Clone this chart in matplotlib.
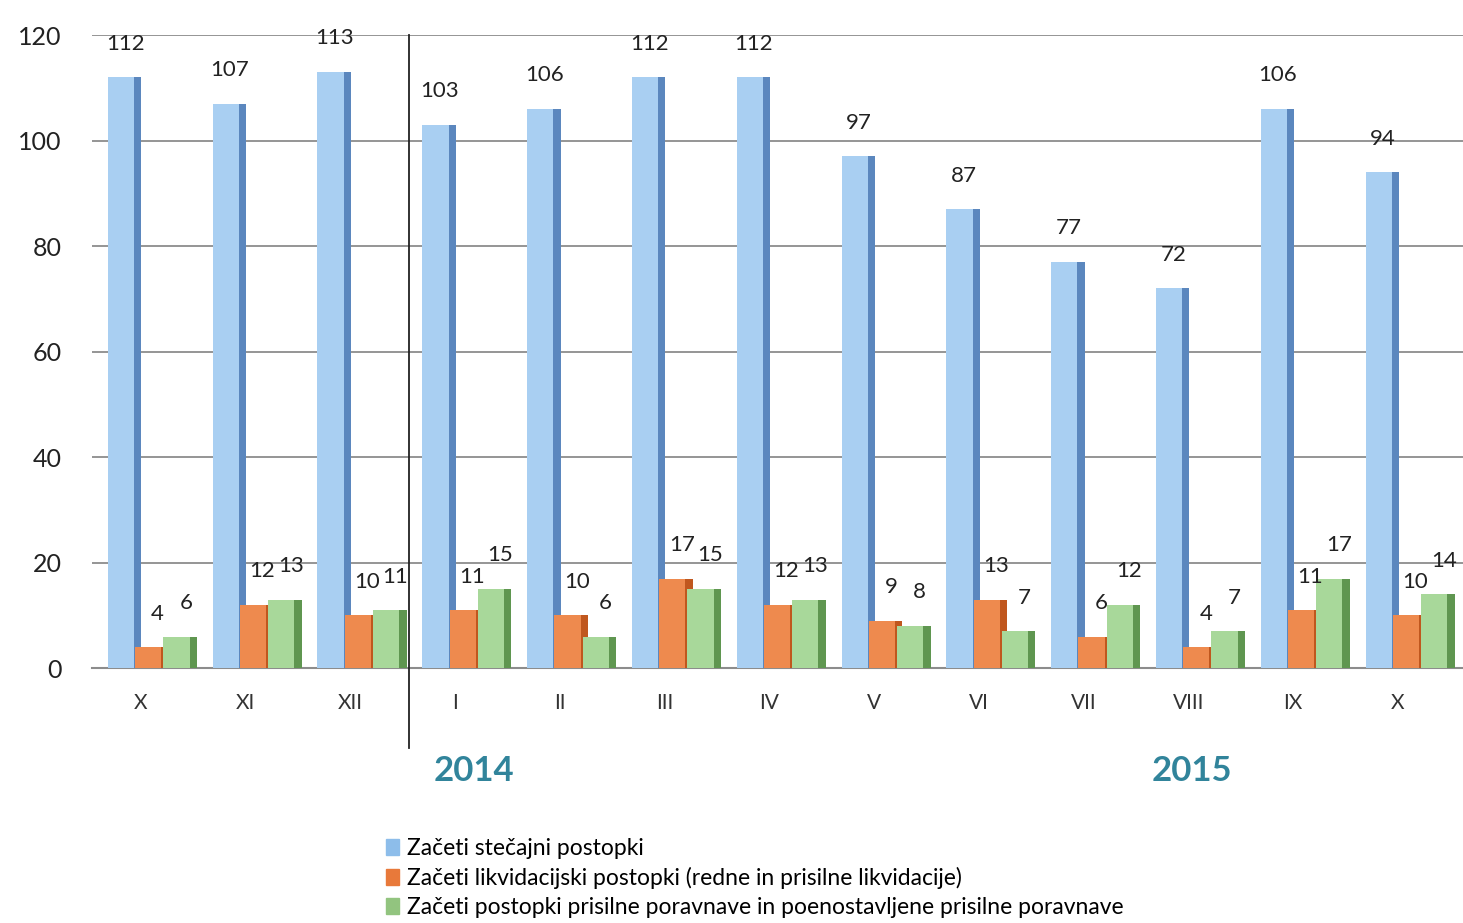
import numpy as np
import matplotlib.pyplot as plt

months = ["X", "XI", "XII", "I", "II", "III", "IV", "V", "VI", "VII", "VIII", "IX", "X"]
stecajni = [112, 107, 113, 103, 106, 112, 112, 97, 87, 77, 72, 106, 94]
likvidacijski = [4, 12, 10, 11, 10, 17, 12, 9, 13, 6, 4, 11, 10]
poravnave = [6, 13, 11, 15, 6, 15, 13, 8, 7, 12, 7, 17, 14]
labels = ["Začeti stečajni postopki",
          "Začeti likvidacijski postopki (redne in prisilne likvidacije)",
          "Začeti postopki prisilne poravnave in poenostavljene prisilne poravnave"]

plt.rcParams['font.family'] = ['Lato', 'DejaVu Sans']

fig = plt.figure(figsize=(14.63, 9.23), dpi=100)
ax = fig.add_axes([0.063, 0.276, 0.937, 0.686])

x = np.arange(len(months))
face_w = 0.25
side_w = 0.07
series = [
    (stecajni, -0.31, "#A9CFF2", "#5B87BE", 0.04),
    (likvidacijski, -0.05, "#EE8A4E", "#C0571E", 0.09),
    (poravnave, 0.22, "#A8D89A", "#5F9650", 0.09),
]
for vals, off, face, side, loff in series:
    ax.bar(x + off, vals, width=face_w, align='edge', color=face, zorder=3)
    ax.bar(x + off + face_w, vals, width=side_w, align='edge', color=side, zorder=3)
    for xi, v in zip(x, vals):
        ax.annotate(str(v), (xi + off + face_w / 2 + loff, v), xytext=(0, 17),
                    textcoords='offset points', ha='center', va='bottom',
                    fontsize=16, color='#222222', zorder=5)

ax.set_xlim(-0.46, 12.62)
ax.set_ylim(0, 120)
ax.set_yticks(range(0, 121, 20))
ax.yaxis.grid(True, color='#8C8C8C', linewidth=1.3, zorder=0)
ax.set_axisbelow(True)
ax.set_xticks(x)
ax.set_xticklabels(months, fontsize=15, color='#333333')
ax.tick_params(axis='y', labelsize=18, length=0, pad=22, colors='#222222')
ax.tick_params(axis='x', length=0, pad=18)
for s in ['top', 'right', 'left']:
    ax.spines[s].set_visible(False)
ax.spines['bottom'].set_color('#8C8C8C')
ax.spines['bottom'].set_linewidth(1.5)

# year separator between XII and I
ax.plot([2.56, 2.56], [-15.2, 120], color='#222222', linewidth=1.3, clip_on=False, zorder=6)

ax.text(3.18, -19.5, "2014", fontsize=25, fontweight='bold', color='#31849B',
        ha='center', va='center')
ax.text(10.03, -19.5, "2015", fontsize=25, fontweight='bold', color='#31849B',
        ha='center', va='center')

handles = [plt.Rectangle((0, 0), 1, 1, color=c) for c in ["#8DBDEA", "#E8793A", "#92C47F"]]
fig.legend(handles, labels, loc='upper left', bbox_to_anchor=(0.256, 0.105),
           frameon=False, fontsize=16.5, handlelength=0.55, handleheight=0.7,
           handletextpad=0.35, labelspacing=0.35, borderpad=0)

fig.savefig("out.png", dpi=100)
